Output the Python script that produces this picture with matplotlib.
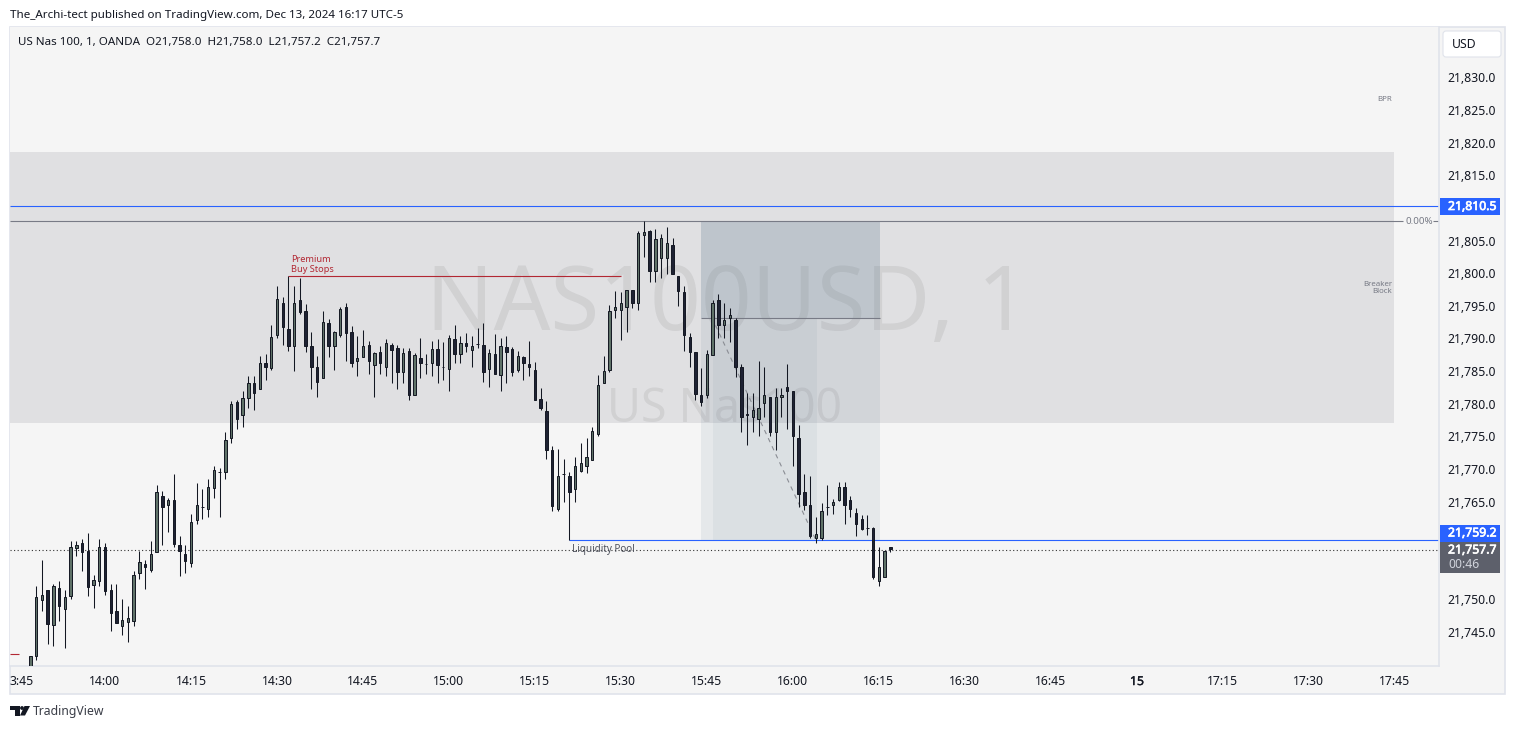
import matplotlib
matplotlib.use("Agg")
import matplotlib.pyplot as plt
import matplotlib.patheffects as pe
from matplotlib.patches import Rectangle, FancyBboxPatch, Polygon
import numpy as np

plt.rcParams["font.family"] = ["Noto Sans", "DejaVu Sans"]

W, H = 1515, 729

# minutes relative to 14:00, first bar is 13:47
first_bar = -13

opens = [
    21737.0, 21741.3, 21749.9, 21751.4, 21746.1, 21751.7, 21748.6, 21750.5, 21757.9, 21758.6,
    21757.5, 21752.2, 21752.8, 21758.0, 21751.5, 21748.2, 21745.9, 21746.6, 21746.7, 21754.1,
    21755.5, 21754.5, 21757.3, 21765.8, 21764.4, 21765.2, 21758.4, 21757.0, 21755.6, 21762.2,
    21764.2, 21763.9, 21767.1, 21769.5, 21769.5, 21774.8, 21780.3, 21778.3, 21780.9, 21783.1,
    21782.3, 21786.3, 21785.5, 21790.6, 21795.5, 21791.5, 21788.9, 21795.9, 21794.2, 21788.8,
    21785.6, 21784.0, 21792.4, 21788.9, 21790.5, 21794.8, 21791.0, 21786.5, 21787.2, 21789.0,
    21786.0, 21787.9, 21785.7, 21789.0, 21788.5, 21784.9, 21788.1, 21781.3, 21787.0, 21786.1,
    21786.3, 21788.4, 21785.7, 21785.3, 21789.9, 21787.6, 21789.3, 21788.3, 21789.1, 21789.0,
    21785.3, 21787.6, 21784.4, 21788.7, 21788.4, 21785.1, 21787.1, 21786.1, 21785.2, 21780.7,
    21778.9, 21772.9, 21763.9, 21769.2, 21768.9, 21767.0, 21769.7, 21770.5, 21771.3, 21775.4,
    21783.1, 21785.1, 21794.3, 21794.3, 21794.9, 21797.5, 21795.4, 21805.9, 21806.4, 21800.4,
    21802.4, 21802.4, 21804.4, 21799.5, 21797.1, 21790.3, 21788.0, 21781.4, 21781.3, 21787.4,
    21795.9, 21792.0, 21793.2, 21792.9, 21785.6, 21778.5, 21778.0, 21777.7, 21780.1, 21781.0,
    21775.7, 21781.0, 21782.5, 21782.0, 21774.8, 21766.4, 21764.5, 21759.4, 21759.4, 21764.2,
    21764.5, 21765.2, 21767.2, 21765.3, 21763.2, 21762.3, 21761.0, 21760.9, 21752.9, 21753.5,
    21758.0,
]
highs = [
    21741.4, 21752.0, 21756.0, 21751.4, 21752.3, 21752.9, 21751.4, 21758.9, 21758.9, 21759.3,
    21760.2, 21753.7, 21759.2, 21758.6, 21752.3, 21752.3, 21750.0, 21749.0, 21754.3, 21757.5,
    21756.0, 21758.9, 21767.5, 21766.6, 21765.5, 21769.3, 21759.7, 21758.3, 21763.1, 21767.9,
    21766.9, 21768.5, 21770.5, 21770.1, 21775.7, 21780.4, 21780.5, 21781.9, 21784.3, 21784.3,
    21787.3, 21787.6, 21792.0, 21798.0, 21796.3, 21799.5, 21798.0, 21799.2, 21795.3, 21791.0,
    21787.3, 21794.2, 21793.0, 21791.2, 21794.8, 21795.5, 21791.9, 21790.4, 21791.3, 21789.6,
    21787.9, 21788.8, 21789.9, 21789.3, 21789.0, 21788.5, 21788.5, 21787.8, 21790.1, 21787.6,
    21789.6, 21789.9, 21789.4, 21790.5, 21792.1, 21790.4, 21790.8, 21790.4, 21791.6, 21792.4,
    21788.4, 21790.7, 21790.1, 21790.4, 21788.7, 21788.1, 21787.3, 21789.6, 21786.4, 21782.4,
    21780.4, 21773.5, 21773.1, 21771.6, 21769.5, 21771.8, 21774.0, 21774.8, 21776.4, 21784.4,
    21787.3, 21795.2, 21797.2, 21797.1, 21797.5, 21797.5, 21806.4, 21808.0, 21806.6, 21806.8,
    21806.0, 21807.1, 21805.4, 21799.5, 21798.0, 21790.8, 21788.0, 21785.4, 21788.3, 21795.9,
    21796.8, 21795.5, 21794.6, 21793.1, 21786.1, 21781.6, 21781.7, 21786.6, 21785.6, 21781.1,
    21782.4, 21782.4, 21786.1, 21782.0, 21776.8, 21769.2, 21768.9, 21762.6, 21764.8, 21767.5,
    21765.4, 21768.0, 21768.0, 21765.9, 21764.0, 21762.9, 21762.9, 21761.1, 21758.0, 21757.4,
    21758.0,
]
lows = [
    21735.5, 21740.7, 21748.3, 21743.1, 21742.9, 21746.7, 21742.6, 21750.0, 21756.7, 21754.4,
    21750.5, 21748.7, 21752.1, 21750.7, 21745.2, 21746.4, 21744.6, 21743.5, 21745.9, 21753.2,
    21751.6, 21754.2, 21757.2, 21758.4, 21760.4, 21758.1, 21753.6, 21754.1, 21755.0, 21761.6,
    21762.3, 21762.7, 21765.6, 21762.7, 21768.4, 21774.0, 21776.1, 21776.5, 21779.4, 21779.1,
    21782.2, 21783.6, 21785.2, 21790.1, 21789.0, 21788.1, 21785.0, 21793.7, 21787.9, 21782.2,
    21781.1, 21783.9, 21787.1, 21785.1, 21790.2, 21786.5, 21785.6, 21784.2, 21787.1, 21784.5,
    21781.1, 21784.6, 21784.2, 21783.1, 21782.2, 21783.2, 21780.5, 21781.3, 21784.0, 21784.6,
    21784.2, 21783.1, 21783.7, 21781.9, 21786.2, 21786.2, 21787.9, 21785.7, 21788.5, 21783.3,
    21782.6, 21784.5, 21781.9, 21783.1, 21784.2, 21784.9, 21783.6, 21784.2, 21780.5, 21779.1,
    21771.6, 21763.5, 21763.5, 21765.0, 21759.1, 21765.0, 21769.6, 21769.4, 21771.3, 21775.1,
    21783.1, 21784.9, 21793.1, 21789.7, 21791.0, 21794.7, 21794.4, 21802.5, 21798.7, 21798.7,
    21799.2, 21799.9, 21799.9, 21795.0, 21788.1, 21785.7, 21780.5, 21779.6, 21780.8, 21787.4,
    21790.0, 21790.0, 21789.5, 21784.1, 21775.6, 21773.7, 21775.6, 21775.0, 21778.0, 21775.0,
    21772.9, 21778.0, 21776.2, 21770.5, 21764.2, 21763.7, 21759.4, 21758.7, 21759.1, 21762.9,
    21763.1, 21765.1, 21761.6, 21762.7, 21759.8, 21760.7, 21759.9, 21753.2, 21752.1, 21753.5,
    21757.2,
]
closes = [
    21741.4, 21750.3, 21750.7, 21746.3, 21752.0, 21749.0, 21750.4, 21758.0, 21758.3, 21757.3,
    21751.9, 21753.0, 21758.0, 21751.3, 21747.9, 21746.4, 21746.8, 21747.1, 21753.8, 21755.8,
    21755.0, 21756.9, 21766.5, 21764.2, 21765.3, 21758.5, 21757.5, 21755.9, 21761.9, 21764.4,
    21764.2, 21767.3, 21769.8, 21769.5, 21774.5, 21779.9, 21777.7, 21780.8, 21783.2, 21781.7,
    21786.3, 21785.6, 21790.3, 21796.0, 21791.8, 21788.8, 21795.5, 21794.0, 21788.9, 21785.6,
    21783.4, 21792.5, 21788.8, 21791.0, 21794.5, 21790.9, 21786.3, 21787.0, 21788.8, 21786.5,
    21787.8, 21786.3, 21789.3, 21788.3, 21784.8, 21787.8, 21781.4, 21787.5, 21786.3, 21786.1,
    21788.4, 21785.9, 21785.6, 21790.1, 21787.6, 21789.3, 21788.9, 21788.8, 21789.1, 21784.9,
    21787.8, 21784.5, 21788.8, 21788.0, 21784.9, 21787.3, 21786.3, 21785.6, 21780.5, 21779.3,
    21772.9, 21764.3, 21768.9, 21769.2, 21766.5, 21770.4, 21770.9, 21771.8, 21775.8, 21782.8,
    21785.0, 21794.2, 21794.8, 21795.4, 21797.4, 21795.5, 21806.1, 21806.3, 21800.4, 21805.2,
    21805.4, 21804.7, 21799.9, 21797.2, 21790.5, 21788.0, 21781.5, 21780.3, 21787.6, 21795.5,
    21792.0, 21792.9, 21793.6, 21785.7, 21778.0, 21778.3, 21779.0, 21779.4, 21781.4, 21775.6,
    21781.0, 21781.4, 21782.0, 21775.0, 21766.2, 21764.5, 21759.8, 21760.1, 21763.5, 21764.2,
    21765.0, 21767.3, 21764.5, 21763.9, 21761.5, 21760.8, 21761.0, 21753.5, 21754.9, 21757.4,
    21757.7,
]

# 21,755 / 21,760 / 21,810 sit under the price tags in the original
y_ticks = [21745, 21750, 21765, 21770, 21775, 21780, 21785, 21790, 21795, 21800,
           21805, 21815, 21820, 21825, 21830]
x_tick_pos = [-14.5, 0, 15, 30, 45, 60, 75, 90, 105, 120, 135, 150, 165, 180, 195, 210, 225]
x_tick_labels = ["3:45", "14:00", "14:15", "14:30", "14:45", "15:00", "15:15", "15:30", "15:45",
                 "16:00", "16:15", "16:30", "16:45", "15", "17:15", "17:30", "17:45"]

band_top, band_bottom = 21818.6, 21777.0
entry_level, swing_high = 21793.1, 21808.0
last_price, liquidity = 21757.55, 21759.1
blue_level, buy_stops = 21810.3, 21799.5

UP, DOWN, WICK = "#5f7268", "#1e2233", "#131722"
BLUE, GREY = "#2962ff", "#787b86"
RED = "#b22833"
TEXT = "#131722"
X0, X1 = -16.57, 232.78


def px_axes(left, top, right, bottom, **kw):
    return fig.add_axes([left / W, 1 - bottom / H, (right - left) / W, (bottom - top) / H], **kw)


def level(price, x0, x1, color):
    lines = ax.hlines(price, x0, x1, color=color, lw=0.8, zorder=2.5)
    lines.set_snap(True)


fig = plt.figure(figsize=(W / 100, H / 100), dpi=100, facecolor="white")

bg = px_axes(0, 0, W, H, zorder=0)
bg.set_xlim(0, W)
bg.set_ylim(H, 0)
bg.axis("off")
bg.add_patch(Rectangle((10, 27), 1495, 667, fc="#f5f5f5", ec="#e0e3eb", lw=1.2))

ax = px_axes(10, 27, 1439.5, 666, zorder=1)
ax.set_facecolor("#f5f5f5")
ax.set_xlim(X0, X1)
ax.set_ylim(21739.8, 21837.74)
for name in ("top", "left"):
    ax.spines[name].set_visible(False)
for name in ("bottom", "right"):
    ax.spines[name].set_color("#e0e3eb")
    ax.spines[name].set_linewidth(1.2)

ax.set_yticks(y_ticks)
ax.set_yticklabels([f"{v:,.1f}" for v in y_ticks])
ax.yaxis.tick_right()
ax.set_xticks(x_tick_pos)
ax.set_xticklabels(x_tick_labels)
ax.tick_params(axis="y", length=0, pad=6, labelsize=8.8, labelcolor=TEXT)
ax.tick_params(axis="x", length=0, pad=6.5, labelsize=8.8, labelcolor=TEXT)
ax.get_xticklabels()[13].set_path_effects([pe.withStroke(linewidth=0.3, foreground=TEXT)])

# watermark
ax.text(0.5015, 0.562, "NAS100USD, 1", transform=ax.transAxes, ha="center", va="center",
        fontsize=64, color="#000000", alpha=0.065, zorder=1)
ax.text(0.4995, 0.402, "US Nas100", transform=ax.transAxes, ha="center", va="center",
        fontsize=33.5, color="#000000", alpha=0.065, zorder=1)

# zones
ax.axhspan(band_bottom, band_top, xmax=(224.8 - X0) / (X1 - X0), color="#e0e0e2", lw=0, zorder=0.5)
ax.add_patch(Rectangle((104, entry_level), 31.2, swing_high - entry_level, fc="#5c788e", alpha=0.25, lw=0, zorder=2))
ax.add_patch(Rectangle((104, liquidity), 31.2, entry_level - liquidity, fc="#5c788e", alpha=0.1, lw=0, zorder=2))
ax.add_patch(Rectangle((106.1, liquidity), 18.1, entry_level - liquidity, fc="#5c788e", alpha=0.07, lw=0, zorder=2))

# level lines
ax.axhline(last_price, color="#333333", lw=0.8, ls=(0, (1, 2.2)), zorder=2.5)
level(blue_level, X0, X1, BLUE)
level(swing_high, X0, 226.4, GREY)
level(swing_high, 231.6, X1, GREY)
level(buy_stops, 32, 90, RED)
level(21741.7, X0, -15, RED)
level(liquidity, 81, X1, BLUE)
level(entry_level, 104, 135.2, GREY)
ax.plot([106.5, 124], [21792.0, liquidity], color="#8a8d94", lw=0.8, ls=(0, (4, 4)), zorder=2.5)

# candles
t = first_bar + np.arange(len(opens))
o, h, l, c = map(np.array, (opens, highs, lows, closes))
up = c >= o
ax.vlines(t, l, h, color=WICK, lw=0.75, zorder=3)
ax.bar(t, c - o, bottom=o, width=0.42, color=np.where(up, UP, DOWN), edgecolor=WICK, lw=0.7, zorder=3.2)

# drawing labels
ax.text(32.4, 21799.9, "Premium\nBuy Stops", color=RED, fontsize=6.6, va="bottom", ha="left", linespacing=1.15, zorder=4)
ax.text(81.5, 21757.7, "Liquidity Pool", color="#50535e", fontsize=7.1, va="center", ha="left", zorder=4)
ax.text(224.5, 21826.6, "BPR", color="#787b86", fontsize=5.7, va="center", ha="right", zorder=4)
ax.text(224.5, 21797.8, "Breaker\nBlock", color="#787b86", fontsize=5.7, va="center", ha="right", linespacing=1.0, zorder=4)
ax.text(226.9, swing_high, "0.00%", color="#787b86", fontsize=7, va="center", ha="left", zorder=4)

# page chrome on top, in pixels
ui = px_axes(0, 0, W, H, zorder=2)
ui.set_xlim(0, W)
ui.set_ylim(H, 0)
ui.axis("off")

ui.text(10, 15, "The_Archi-tect published on TradingView.com, Dec 13, 2024 16:17 UTC-5",
        fontsize=8.35, color=TEXT, va="center", ha="left")
ui.text(18, 42, "US Nas 100, 1, OANDA  O21,758.0  H21,758.0  L21,757.2  C21,757.7",
        fontsize=8.35, color=TEXT, va="center", ha="left")

ui.add_patch(FancyBboxPatch((1445, 33), 54, 22, boxstyle="round,pad=2,rounding_size=3", fc="white", ec="#e0e3eb", lw=0.8))
ui.text(1452, 44, "USD", fontsize=8.8, color=TEXT, va="center", ha="left")

bold = [pe.withStroke(linewidth=0.5, foreground="white")]
ui.add_patch(Rectangle((1440, 198), 60, 17, fc=BLUE, ec="none"))
ui.text(1448, 206.5, "21,810.5", fontsize=8.8, color="white", va="center", ha="left", path_effects=bold)
ui.add_patch(Rectangle((1440, 525), 60, 16.7, fc=BLUE, ec="none"))
ui.text(1448, 533, "21,759.2", fontsize=8.8, color="white", va="center", ha="left", path_effects=bold)
ui.add_patch(Rectangle((1440, 541.7), 60, 30.8, fc="#5d606b", ec="none"))
ui.text(1448, 550, "21,757.7", fontsize=8.8, color="white", va="center", ha="left", path_effects=bold)
ui.text(1448, 564, "00:46", fontsize=8.8, color="#d1d4dc", va="center", ha="left")

# logo
ui.add_patch(Polygon([(10, 706), (19.5, 706), (19.5, 715.5), (14.5, 715.5), (14.5, 709.5), (10, 709.5)], fc="#131722", ec="none"))
ui.add_patch(Polygon([(24.5, 706), (30, 706), (25, 715.5), (20, 715.5)], fc="#131722", ec="none"))
ui.add_patch(plt.Circle((22, 708), 1.9, fc="#131722", ec="none"))
ui.text(33, 712, "TradingView", fontsize=8.8, color="#3a3d47", va="center", ha="left")

fig.savefig("out.png", dpi=100, facecolor="white")
